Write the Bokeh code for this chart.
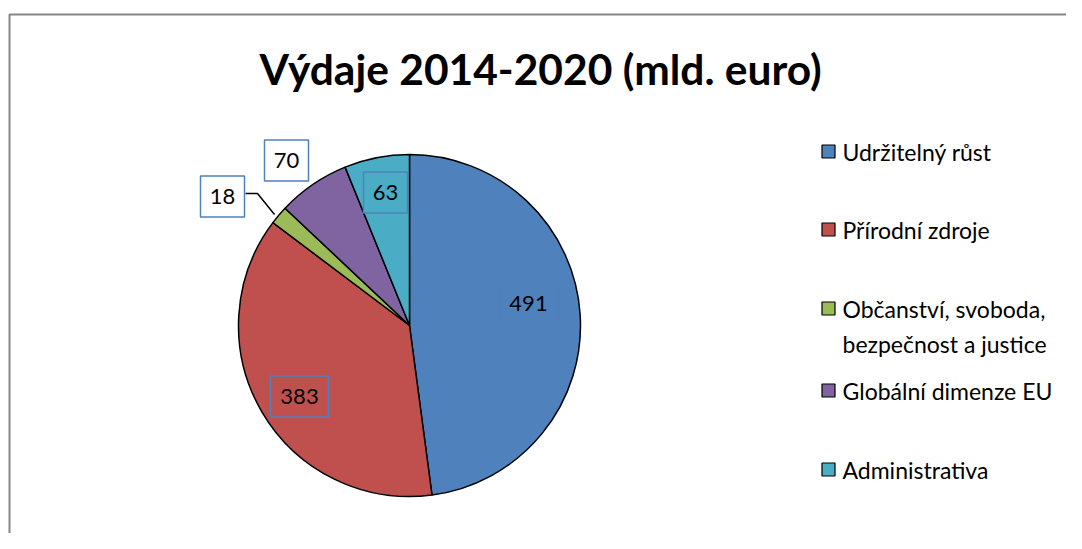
import math
from bokeh.plotting import figure
from bokeh.models import Range1d, ColumnDataSource
from bokeh.core.properties import value
from bokeh.embed import file_html
from bokeh.resources import INLINE

# ---- data ----
title = "Výdaje 2014-2020 (mld. euro)"
categories = ["Udržitelný růst", "Přírodní zdroje", "Občanství, svoboda,\nbezpečnost a justice",
              "Globální dimenze EU", "Administrativa"]
values = [491, 383, 18, 70, 63]
colors = ["#4F81BD", "#C0504D", "#9BBB59", "#8064A2", "#4BACC6"]

# ---- layout (image pixel coords, y down) ----
W, H = 1066, 533
FONT = "Lato"

def X(px):
    return px

def Y(py):
    return H - py

cx, cy, R = 409, 325, 171
label_pos = [(528, 303), (299, 396), (222, 196), (286, 160), (385, 192)]
label_fill = [None, None, "white", "white", None]
legend_y = [151, 229, 308, 390, 469]

p = figure(width=W, height=H, output_backend="svg", toolbar_location=None,
           x_range=Range1d(0, W), y_range=Range1d(0, H), min_border=0)
p.axis.visible = False
p.grid.visible = False
p.outline_line_color = None
p.background_fill_color = "white"

# chart border (gray)
p.line([X(9), X(9), X(1200)], [Y(900), Y(14), Y(14)], line_color="#868686", line_width=2)

# wedges
total = sum(values)
starts, ends = [], []
cum = 0
for v in values:
    starts.append(math.pi / 2 - 2 * math.pi * cum / total)
    cum += v
    ends.append(math.pi / 2 - 2 * math.pi * cum / total)
src = ColumnDataSource(dict(start=starts, end=ends, color=colors))
p.wedge(x=X(cx), y=Y(cy), radius=R, start_angle="start", end_angle="end",
        direction="clock", fill_color="color", line_color="black", line_width=1.5, source=src)

# leader line for small slice
p.line([X(245), X(257), X(274)], [Y(193), Y(193), Y(214)], line_color="black", line_width=1.5)

# data labels with boxes
for v, (lx, ly), fill in zip(values, label_pos, label_fill):
    t = str(v)
    bw = 16 + 14 * len(t)
    p.rect(x=X(lx), y=Y(ly), width=bw, height=41, fill_color=fill if fill else None,
           fill_alpha=1 if fill else 0, line_color="#4F81BD", line_width=1.5)
    p.text(x=[X(lx)], y=[Y(ly)], text=[t], text_align="center", text_baseline="middle",
           text_font=value(FONT), text_font_size="22px", text_color="black")

# title
p.text(x=[X(540)], y=[Y(68)], text=[title], text_align="center", text_baseline="middle",
       text_font=value(FONT), text_font_size="42.5px", text_font_style="bold", text_color="black")

# legend
for cat, col, ly in zip(categories, colors, legend_y):
    p.rect(x=X(828), y=Y(ly), width=13, height=13, fill_color=col, line_color="black", line_width=1.2)
    lines = cat.split("\n")
    for i, ln in enumerate(lines):
        p.text(x=[X(842)], y=[Y(ly + 35 * i)], text=[ln], text_align="left", text_baseline="middle",
               text_font=value(FONT), text_font_size="23px", text_color="black")

open("out.html", "w").write(file_html(p, INLINE))
